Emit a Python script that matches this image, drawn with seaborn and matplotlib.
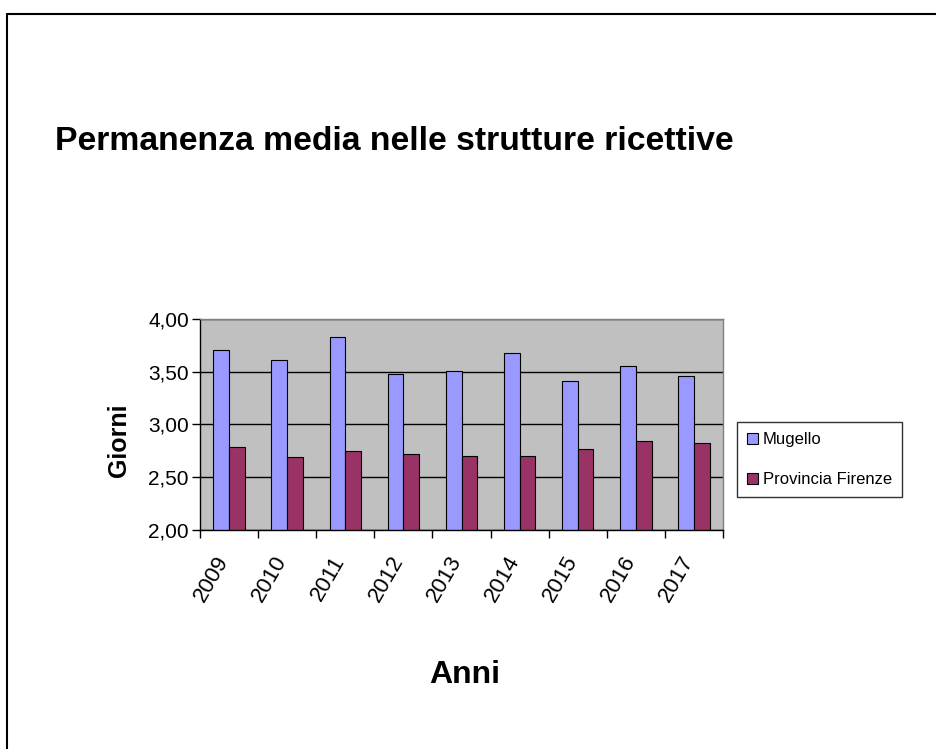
import matplotlib
matplotlib.use("Agg")
import matplotlib.pyplot as plt
import matplotlib.ticker as mticker
import matplotlib.transforms as mtransforms
from matplotlib.lines import Line2D
import seaborn as sns
import pandas as pd

years = ["2009", "2010", "2011", "2012", "2013", "2014", "2015", "2016", "2017"]
mugello = [3.71, 3.61, 3.83, 3.48, 3.51, 3.68, 3.41, 3.55, 3.46]
firenze = [2.79, 2.69, 2.75, 2.72, 2.70, 2.70, 2.77, 2.84, 2.82]
series = ["Mugello", "Provincia Firenze"]
colors = ["#9999FF", "#993366"]
yticks = [2.0, 2.5, 3.0, 3.5, 4.0]

df = pd.DataFrame({
    "Anno": years * 2,
    "Valore": mugello + firenze,
    "Serie": [series[0]] * len(years) + [series[1]] * len(years),
})

sns.set_theme(style="white")
FONT = ["Liberation Sans", "DejaVu Sans"]
plt.rcParams["font.family"] = FONT
plt.rcParams["text.color"] = "black"
plt.rcParams["axes.labelcolor"] = "black"
plt.rcParams["xtick.color"] = "black"
plt.rcParams["ytick.color"] = "black"

fig = plt.figure(figsize=(9.36, 7.49), dpi=100)
ax = fig.add_axes([200/936, 1-530/749, 523/936, 211/749])
ax.set_facecolor("#C0C0C0")

sns.barplot(data=df, x="Anno", y="Valore", hue="Serie", palette=colors,
            width=0.54, edgecolor="black", linewidth=0.8, ax=ax, legend=True,
            saturation=1)

ax.set_ylim(2, 4)
ax.set_xlim(-0.5, len(years) - 0.5)
ax.set_yticks(yticks)
ax.yaxis.set_major_formatter(mticker.FuncFormatter(lambda v, p: f"{v:.2f}".replace(".", ",")))
ax.yaxis.grid(True, color="black", linewidth=1)
ax.set_axisbelow(True)

ax.set_xticks(range(len(years)))
ax.set_xticklabels(years, rotation=60, ha="right", rotation_mode="anchor", fontsize=16)
ax.tick_params(axis="x", which="major", length=0, pad=16)
shift = mtransforms.ScaledTranslation(-14/100, 0, fig.dpi_scale_trans)
for lab in ax.get_xticklabels():
    lab.set_transform(lab.get_transform() + shift)
ax.set_xticks([i - 0.5 for i in range(len(years) + 1)], minor=True)
ax.tick_params(axis="x", which="minor", length=6, width=1, color="black", direction="out", bottom=True)
ax.tick_params(axis="y", which="major", length=6, width=1, color="black", direction="out", left=True, labelsize=15, pad=2)

for s in ["left", "bottom"]:
    ax.spines[s].set_color("black")
    ax.spines[s].set_linewidth(1)
for s in ["top", "right"]:
    ax.spines[s].set_color("#808080")
    ax.spines[s].set_linewidth(1)

ax.set_xlabel("")
ax.set_ylabel("")
fig.text(465/936, 1-683/749, "Anni", fontsize=23, fontweight="bold", ha="center", va="baseline")
fig.text(119/936, 1-440/749, "Giorni", fontsize=18, fontweight="bold", ha="center", va="center", rotation=90)

handles, labels = ax.get_legend_handles_labels()
ax.legend_.remove()
leg = fig.legend(handles, labels, loc="upper left", bbox_to_anchor=(737/936, 1-422/749),
                 frameon=True, fancybox=False, edgecolor="black", fontsize=12,
                 handlelength=0.65, handleheight=0.65, handletextpad=0.3,
                 borderpad=0.6, labelspacing=1.5, borderaxespad=0)
leg.get_frame().set_linewidth(1)

fig.text(55/936, 1-150/749, "Permanenza media nelle strutture ricettive",
         fontsize=24.3, fontweight="bold", ha="left", va="baseline")

fig.add_artist(Line2D([7/936, 1], [1-14/749, 1-14/749], color="black", linewidth=1.5, transform=fig.transFigure))
fig.add_artist(Line2D([7/936, 7/936], [0, 1-14/749], color="black", linewidth=1.5, transform=fig.transFigure))

fig.savefig("out.png", dpi=100, facecolor="white")
